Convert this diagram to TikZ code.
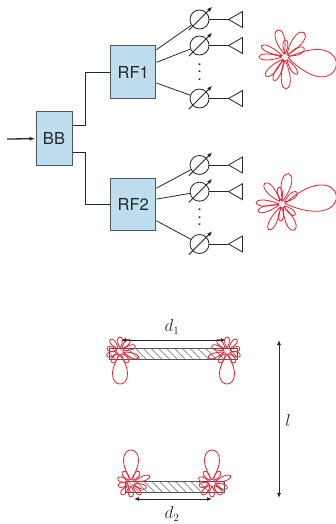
\documentclass[tikz,border=0pt]{standalone}
\usepackage{fontspec}
\setmainfont{TeX Gyre Heros}
\usetikzlibrary{arrows.meta,positioning,shapes.geometric,patterns.meta}
\definecolor{boxfill}{RGB}{190,222,240}
\definecolor{boxline}{RGB}{75,90,98}
\definecolor{ink}{RGB}{35,40,42}
\definecolor{lobered}{RGB}{238,30,45}
\tikzset{
  chain/.style={rectangle,draw=boxline,fill=boxfill,line width=1pt,inner sep=0pt,text=ink,font=\fontsize{16.5}{18}\selectfont},
  wire/.style={line width=1.3pt,draw=ink},
  feed/.style={line width=0.8pt,draw=ink},
  shifter/.style={circle,draw=ink,line width=0.8pt,minimum size=19pt,inner sep=0pt},
  tune/.style={-{Latex[length=5pt,width=4pt]},line width=0.8pt,draw=ink,shorten <=-5.3pt,shorten >=-8pt},
  antenna/.style={isosceles triangle,shape border rotate=180,isosceles triangle stretches,draw=ink,line width=0.8pt,minimum width=16pt,minimum height=14pt,inner sep=0pt,anchor=apex},
  lobe/.style={draw=lobered,line width=0.8pt},
  span/.style={{Latex[length=5pt,width=4pt]}-{Latex[length=5pt,width=4pt]},line width=0.9pt,draw=ink},
  slab/.style={rectangle,draw=boxline,line width=0.9pt,inner sep=0pt,pattern={Lines[angle=-45,distance=5.5pt,line width=0.7pt]},pattern color=gray},
  mathlabel/.style={text=ink,font=\fontsize{16}{18}\selectfont},
  dotstack/.style={text=ink,inner sep=0pt,font=\fontsize{16}{18}\selectfont},
}
% petals: angle/length/width
\newcommand{\petalsA}{-10/49/27,24/18/7,52/28/10,88/14/5,105/25/9,155/23/6,180/23/6,225/24/7,245/23/6,272/29/9,305/18/5}
\newcommand{\petalsB}{9/52/26,38/16/6,78/28/10,100/14/5,130/24/8,177/23/6,197/22/6,243/26/7,265/14/5,295/26/9,320/14/5}
\newcommand{\petalsC}{-90/30/15,-20/17/5,18/13/5,50/12/5,90/11/5,130/12/5,168/10/5,200/11/5,235/11/5,-55/11/5}
\newcommand{\lobes}[2]{%
  \begin{scope}[#1]
    \foreach \ang/\len/\wid in #2 {
      \draw[lobe,rotate=\ang] (3,0) .. controls ({3+\len/.75},{\wid/.578}) and ({3+\len/.75},{-\wid/.578}) .. (3,0);
    }
  \end{scope}}
\newcommand{\dotstackbox}{\vbox{\baselineskip7.5pt\lineskiplimit0pt\hbox{.}\hbox{.}\hbox{.}}}
\begin{document}
\begin{tikzpicture}[x=1pt,y=-1pt]
\useasboundingbox (0,0) rectangle (336,524);
% baseband and RF chains
\node[chain,minimum width=36pt,minimum height=53pt] (BB) at (54,138.5) {BB};
\node[chain,minimum width=45.5pt,minimum height=52.5pt] (RF1) at (133.2,72.2) {RF1};
\node[chain,minimum width=45.5pt,minimum height=52.5pt] (RF2) at (133.2,204.5) {RF2};
\coordinate (in) at (7,139);
\draw[-{Latex[length=6pt,width=4pt]},wire] (in) -- (BB);
\draw[wire] (BB.east |- 0,125.5) -| (85.5,72.2) -- (RF1.west);
\draw[wire] (BB.east |- 0,152.5) -| (85.5,204.5) -- (RF2.west);

% phase shifters and antennas
\foreach \n/\y/\a in {11/19.5/44,12/45.5/23.5,13/98.5/-25.6} {
  \node[shifter] (ps\n) at (199.5,\y) {};
  \node[antenna] (ant\n) at (227.5,\y) {};
  \draw[tune] (ps\n.-135) -- (ps\n.45);
  \draw[feed] (ps\n) -- (ant\n.apex);
  \draw[feed] (RF1.\a) -- (ps\n);
}
\foreach \n/\y/\a in {21/165/35.7,22/191.7/13.4,23/244/-35.7} {
  \node[shifter] (ps\n) at (199.5,\y) {};
  \node[antenna] (ant\n) at (227.5,\y) {};
  \draw[tune] (ps\n.-135) -- (ps\n.45);
  \draw[feed] (ps\n) -- (ant\n.apex);
  \draw[feed] (RF2.\a) -- (ps\n);
}
\node[dotstack] (dots1) at (199.5,72) {\dotstackbox};
\node[dotstack] (dots2) at (199.5,217.5) {\dotstackbox};

% beam patterns
\lobes{shift={(285,57)}}{\petalsA}
\lobes{shift={(282,204)}}{\petalsB}

% two slabs
\node[slab,minimum width=128pt,minimum height=11pt] (slab1) at (173,353.5) {};
\node[slab,minimum width=99pt,minimum height=11pt] (slab2) at (174.5,486.5) {};
\lobes{shift={(120,351)}}{\petalsC}
\lobes{shift={(227,351)},xscale=-1}{\petalsC}
\lobes{shift={(131,483)},yscale=-1}{\petalsC}
\lobes{shift={(212,483)},yscale=-1}{\petalsC}

% distances
\coordinate (d1l) at (121,340);
\coordinate (d1r) at (226,340);
\coordinate (d2l) at (134,499);
\coordinate (d2r) at (212,499);
\coordinate (lt) at (279,340);
\coordinate (lb) at (279,498);
\draw[span] (d1l) -- (d1r);
\draw[span] (d2l) -- (d2r);
\draw[span] (lt) -- (lb);
\node[mathlabel] (d1) at (172,327) {$d_1$};
\node[mathlabel] (d2) at (172,514) {$d_2$};
\node[mathlabel] (ell) at (288,420) {$l$};
\end{tikzpicture}
\end{document}
